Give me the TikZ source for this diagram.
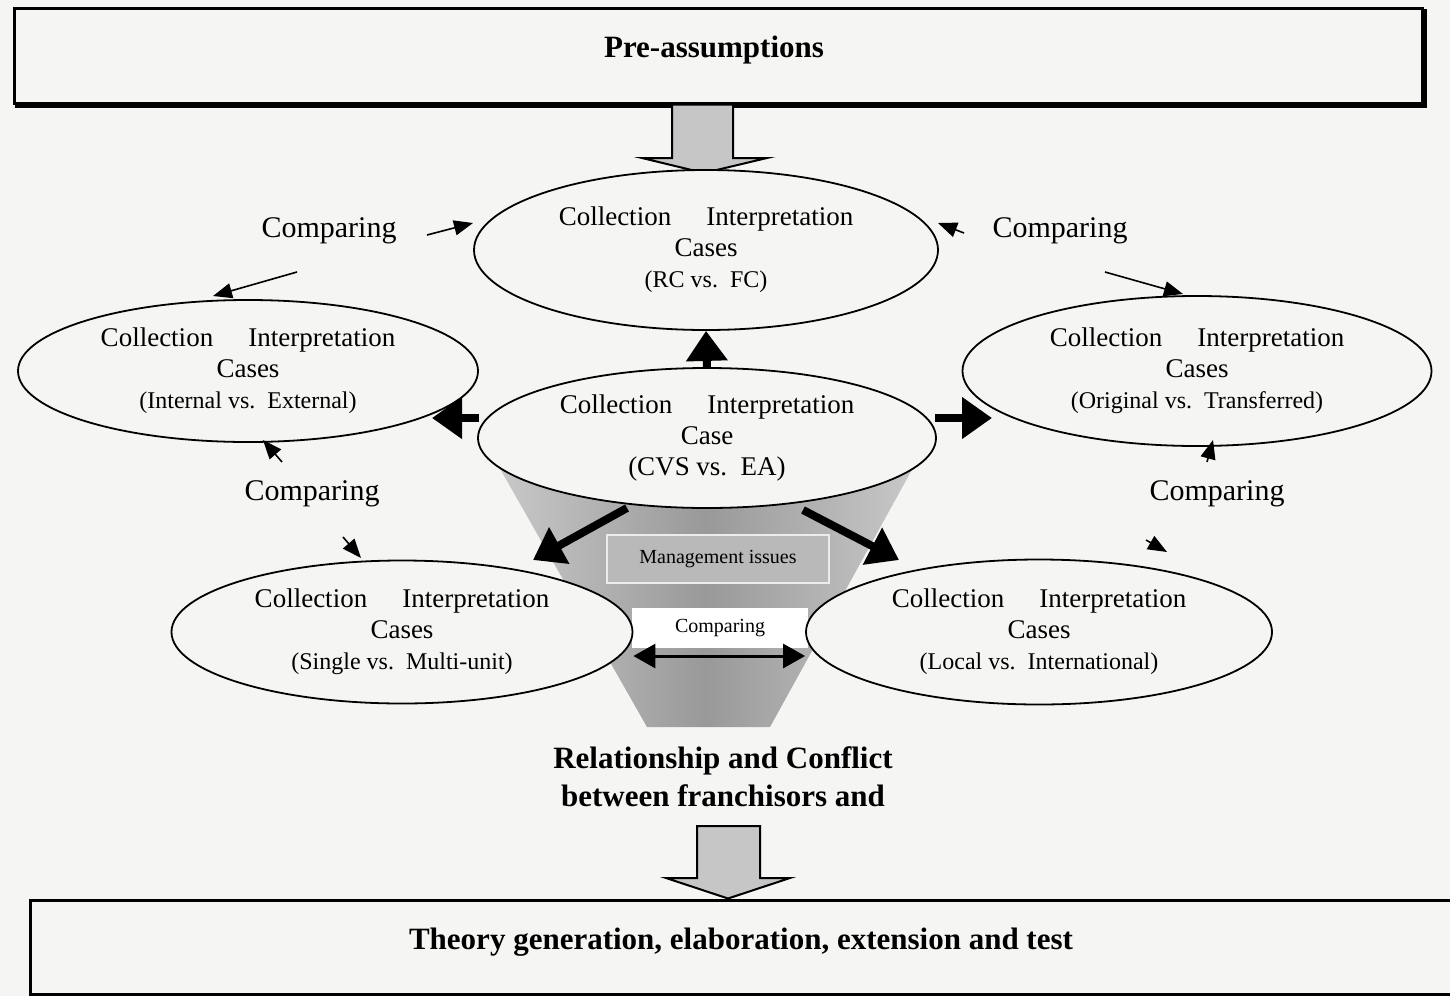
\documentclass[tikz,border=0pt]{standalone}
\usepackage{fontspec}
\setmainfont{Liberation Serif}
\usetikzlibrary{shapes.geometric,arrows.meta,calc}
\definecolor{paper}{HTML}{F5F5F3}
\begin{document}
\begin{tikzpicture}[x=1pt,y=-1pt,
  headbox/.style={draw,line width=3pt,inner sep=0pt,fill=paper},
  headtext/.style={font=\fontsize{31}{36}\selectfont\bfseries,align=center},
  caseell/.style={ellipse,draw,line width=1.8pt,fill=paper,inner sep=0pt,align=center,
                  font=\fontsize{27}{31}\selectfont},
  cmp/.style={font=\fontsize{30}{34}\selectfont},
  bigarrow/.style={line width=8pt,-{Triangle[width=40pt,length=30pt]}},
  smallarrow/.style={line width=1.6pt,-{Triangle[width=15pt,length=19pt]}},
  blockarrow/.style={draw,line width=2pt,fill=gray!45,line join=miter}
]
\useasboundingbox (0,0) rectangle (1450,996);
\clip (0,0) rectangle (1450,996);
\fill[paper] (0,0) rectangle (1450,996);

% --- top and bottom frames
\node[headbox,minimum width=1408,minimum height=95] (pre) at (718,55.5) {};
\draw[line width=3pt] ($(pre.south west)+(2,2)$) -- ($(pre.south east)+(2,2)$) -- ($(pre.north east)+(2,2)$);
\node[headtext] (pretext) at (714,50) {Pre-assumptions};

\node[headbox,minimum width=1440,minimum height=94] (theory) at (750,947) {};
\node[headtext] (theorytext) at (741,942) {Theory generation, elaboration, extension and test};

% --- funnel behind the central case
\shade[left color=gray!40,right color=gray!40,middle color=gray!80]
  (482,437) -- (930,437) -- (770,727) -- (647,727) -- cycle;

% --- boxes inside the funnel
\node[draw=gray!15,line width=1.5pt,fill=gray!55,minimum width=222,minimum height=48,inner sep=0pt,
      font=\fontsize{20}{24}\selectfont] (mgmt) at (718,559) {Management issues};
\node[fill=white,minimum width=176,minimum height=40,inner sep=0pt,
      font=\fontsize{20}{24}\selectfont] (cmpbox) at (720,628) {Comparing};

% --- block arrows
\draw[blockarrow] (pre.south -| 672,0) -- (672,158) -- (642,158) -- (704,173) -- (767,158) -- (733,158) -- (pre.south -| 733,0) -- cycle;
\draw[blockarrow] (697,826) -- (697,878) -- (666,878) -- (theory.north -| 728,0) -- (790,878) -- (760,878) -- (760,826) -- cycle;

% --- the cases
\node[caseell,minimum width=464,minimum height=160] (ctop) at (706,250)
  {Collection\hspace{1.3em}Interpretation\\Cases\\{\fontsize{24}{28}\selectfont (RC vs.\ \ FC)}};
\node[caseell,minimum width=460,minimum height=142] (cleft) at (248,371)
  {Collection\hspace{1.3em}Interpretation\\Cases\\{\fontsize{24}{28}\selectfont (Internal vs.\ \ External)}};
\node[caseell,minimum width=469,minimum height=150] (cright) at (1197,371)
  {Collection\hspace{1.3em}Interpretation\\Cases\\{\fontsize{24}{28}\selectfont (Original vs.\ \ Transferred)}};
\node[caseell,minimum width=458,minimum height=140] (cva) at (707,438)
  {Collection\hspace{1.3em}Interpretation\\Case\\(CVS vs.\ \ EA)};
\node[caseell,minimum width=461,minimum height=143] (cbl) at (402,632)
  {Collection\hspace{1.3em}Interpretation\\Cases\\{\fontsize{24}{28}\selectfont (Single vs.\ \ Multi-unit)}};
\node[caseell,minimum width=466,minimum height=145] (cbr) at (1039,632)
  {Collection\hspace{1.3em}Interpretation\\Cases\\{\fontsize{24}{28}\selectfont (Local vs.\ \ International)}};

% --- outcome of the comparison
\node[headtext,font=\fontsize{31}{38}\selectfont\bfseries] (relation) at (723,777)
  {Relationship and Conflict\\between franchisors and};

% --- thick arrows out of the central case
\draw[bigarrow] (cva.north) -- (ctop.south);
\draw[bigarrow] ($(cva.center)+(-228,-20)$) -- ($(cleft.center)+(184,47)$);
\draw[bigarrow] ($(cva.center)+(228,-20)$) -- ($(cright.center)+(-205,47)$);
\draw[bigarrow] ($(cva.center)+(-80,70)$) -- ($(cbl.center)+(131,-72)$);
\draw[bigarrow] ($(cva.center)+(96,72)$) -- ($(cbr.center)+(-140,-72)$);

% --- comparing between the bottom cases
\draw[line width=3pt,{Triangle[width=24pt,length=22pt]}-{Triangle[width=24pt,length=22pt]}]
  ($(cbl.east)+(0,24)$) -- ($(cbr.west)+(0,24)$);

% --- comparing labels and their arrows
\node[cmp] (cmpTL) at (329,231) {Comparing};
\node[cmp] (cmpTR) at (1060,231) {Comparing};
\node[cmp] (cmpML) at (312,494) {Comparing};
\node[cmp] (cmpMR) at (1217,494) {Comparing};

\draw[smallarrow] ($(cmpTL)+(98,4)$) -- ($(ctop.center)+(-233,-27)$);
\draw[smallarrow] ($(cmpTL)+(-32,41)$) -- ($(cleft.center)+(-35,-75)$);
\draw[smallarrow] ($(cmpTR)+(-96,2)$) -- ($(ctop.center)+(232,-27)$);
\draw[smallarrow] ($(cmpTR)+(45,41)$) -- ($(cright.center)+(-14,-77)$);
\draw[smallarrow] ($(cmpML)+(-30,-32)$) -- ($(cleft.center)+(15,69)$);
\draw[smallarrow] ($(cmpML)+(31,43)$) -- ($(cbl.center)+(-41,-74)$);
\draw[smallarrow] ($(cmpMR)+(-10,-32)$) -- ($(cright.center)+(16,69)$);
\draw[smallarrow] ($(cmpMR)+(-71,46)$) -- ($(cbr.center)+(128,-80)$);
\end{tikzpicture}
\end{document}
